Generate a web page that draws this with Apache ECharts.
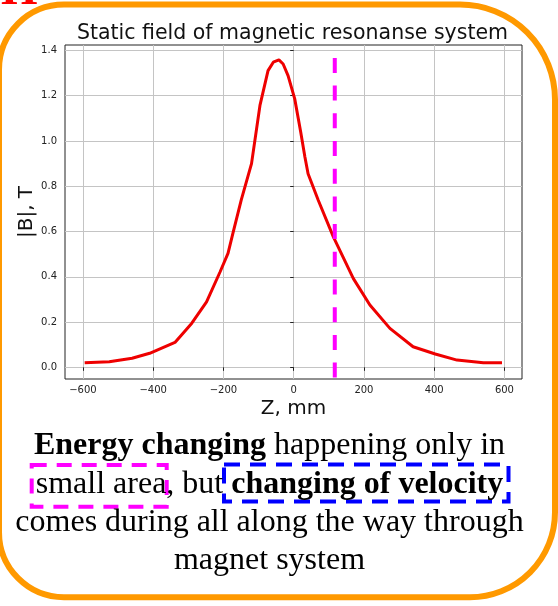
<!DOCTYPE html>
<html><head><meta charset="utf-8">
<script src="https://cdn.jsdelivr.net/npm/echarts/dist/echarts.min.js"></script>
<style>html,body{margin:0;padding:0;background:#fff}#c{width:558px;height:606px}</style>
</head><body><div id="c"></div>
<script>
// ---- data ----
const zValues = [-595,-525,-460,-410,-338,-290,-248,-210,-187,-172,-149,-120,-96,-73,-58,-42,-30,-16,3,20,32,41,70,113,170,217,274,340,403,465,540,593];
const bValues = [0.020,0.025,0.040,0.062,0.110,0.195,0.289,0.420,0.503,0.598,0.741,0.900,1.157,1.311,1.348,1.358,1.340,1.289,1.186,1.040,0.929,0.855,0.738,0.576,0.392,0.275,0.172,0.091,0.059,0.032,0.020,0.020];
const markerZ = [117, 117];
const markerB = [1.367, -0.059];
const xTicks = [-600,-400,-200,0,200,400,600];
const yTicks = [0,0.2,0.4,0.6,0.8,1.0,1.2,1.4];
const titleText = 'Static field of magnetic resonanse system';
const xName = 'Z, mm';
const yName = '|B|, T';
const noteLine1 = ['Energy changing', ' happening only in'];
const noteLine2 = ['small area, but ', 'changing of velocity'];
const noteLine3 = 'comes during all along the way through';
const noteLine4 = 'magnet system';
const cornerText = 'H';

const serif = '"Liberation Serif", "Times New Roman", serif';
const sans = '"DejaVu Sans", sans-serif';
const rich = {
  b: {fontFamily: serif, fontSize: 32, fontWeight: 'bold', fill: '#000', align: 'center'},
  r: {fontFamily: serif, fontSize: 32, fontWeight: 'normal', fill: '#000', align: 'center'}
};
function noteText(x, y, txt) {
  return {type: 'text', x: x, y: y, z: 10,
    style: {text: txt, rich: rich, align: 'center', verticalAlign: 'middle',
      textAlign: 'center', textVerticalAlign: 'middle', font: 'normal 32px ' + serif, fill: '#000'}};
}
const minus = v => v < 0 ? '\u2212' + Math.abs(v) : String(v);

const chart = echarts.init(document.getElementById('c'), null, {renderer: 'canvas'});
chart.setOption({
  animation: false,
  backgroundColor: '#fff',
  title: {text: titleText, left: 292.5, textAlign: 'center', top: 23, padding: 0,
    textStyle: {fontFamily: sans, fontSize: 20.5, fontWeight: 'normal', color: '#111'}},
  grid: {left: 65, right: 36, top: 45, bottom: 227, show: true, borderColor: '#222', borderWidth: 1, containLabel: false},
  xAxis: {type: 'value', min: -651, max: 650,
    name: xName, nameLocation: 'middle', nameGap: 20, nameMoveOverlap: false,
    nameTextStyle: {fontFamily: sans, fontSize: 20, color: '#111'},
    axisLine: {show: false},
    axisTick: {show: true, length: 3.5, lineStyle: {color: '#222'}, customValues: xTicks},
    axisLabel: {customValues: xTicks, formatter: minus, fontFamily: sans, fontSize: 10, color: '#222', margin: 6},
    splitLine: {show: true, lineStyle: {color: '#c4c4c4', width: 1}}
  },
  yAxis: {type: 'value', min: -0.0516, max: 1.424,
    name: yName, nameLocation: 'middle', nameGap: 28, nameMoveOverlap: false,
    nameTextStyle: {fontFamily: sans, fontSize: 20, color: '#111'},
    axisLine: {show: false},
    axisTick: {show: true, length: 3.5, lineStyle: {color: '#222'}, customValues: yTicks},
    axisLabel: {customValues: yTicks, formatter: v => v.toFixed(1), fontFamily: sans, fontSize: 10, color: '#222', margin: 8},
    splitLine: {show: true, lineStyle: {color: '#c4c4c4', width: 1}}
  },
  series: [
    {type: 'line', data: zValues.map((z, i) => [z, bValues[i]]), showSymbol: false, symbol: 'none',
      lineStyle: {color: '#ee0000', width: 3}, z: 3},
    {type: 'line', data: markerZ.map((z, i) => [z, markerB[i]]), showSymbol: false, symbol: 'none', clip: false,
      lineStyle: {color: '#ff00ff', width: 4, type: [15, 12.7], cap: 'butt'}, z: 4}
  ],
  graphic: {elements: [
    {type: 'rect', shape: {x: -1, y: 4.5, width: 556, height: 592.7, r: [65, 95, 85, 65]},
      style: {fill: 'none', stroke: '#ff9900', lineWidth: 6}, z: 1},
    {type: 'text', x: 1, y: -8, style: {text: cornerText, font: 'bold 47px ' + serif, fill: '#ff0000',
      align: 'left', verticalAlign: 'middle', textAlign: 'left', textVerticalAlign: 'middle'}},
    {type: 'rect', shape: {x: 31.7, y: 465, width: 135, height: 41.7},
      style: {fill: 'none', stroke: '#ff00ff', lineWidth: 4, lineDash: [15, 10]}, z: 5},
    {type: 'rect', shape: {x: 224, y: 464.5, width: 284.5, height: 37},
      style: {fill: 'none', stroke: '#0000ff', lineWidth: 4, lineDash: [16, 10]}, z: 5},
    noteText(269.5, 446, '{b|' + noteLine1[0] + '}{r|' + noteLine1[1] + '}'),
    noteText(269.5, 485, '{r|' + noteLine2[0] + '}{b|' + noteLine2[1] + '}'),
    noteText(269.5, 523, '{r|' + noteLine3 + '}'),
    noteText(269.5, 561, '{r|' + noteLine4 + '}')
  ]}
});
</script>
</body></html>
